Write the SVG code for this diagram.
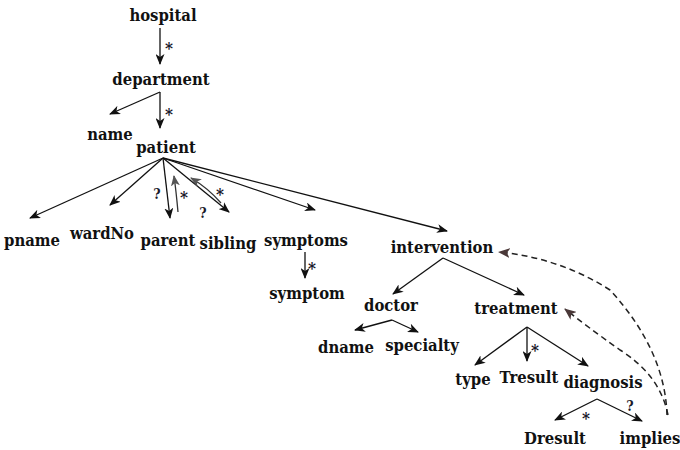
<svg xmlns="http://www.w3.org/2000/svg" width="680" height="450" viewBox="0 0 680 450">
<style>
text{font-family:"DejaVu Serif Condensed","DejaVu Serif","Liberation Serif",serif;font-stretch:condensed;font-weight:bold;font-size:16.5px;fill:#111;text-anchor:middle}
.lbl{font-size:14px;fill:#1a1a2a}
.st{font-size:17px;fill:#1a1a2a}
.e{stroke:#111;stroke-width:1.3;fill:none;marker-end:url(#ah)}
.r{stroke:#333;stroke-width:1.3;fill:none;marker-end:url(#ag)}
.d{stroke:#222;stroke-width:1.5;fill:none;stroke-dasharray:6,4;marker-end:url(#ad)}
</style>
<defs>
<marker id="ah" markerUnits="userSpaceOnUse" markerWidth="11" markerHeight="9" refX="10" refY="4.5" orient="auto"><path d="M0,0 L11,4.5 L0,9 L3,4.5 z" fill="#111"/></marker>
<marker id="ag" markerUnits="userSpaceOnUse" markerWidth="11" markerHeight="9" refX="10" refY="4.5" orient="auto"><path d="M0,0 L11,4.5 L0,9 L3,4.5 z" fill="#555"/></marker>
<marker id="ad" markerUnits="userSpaceOnUse" markerWidth="12" markerHeight="10" refX="11" refY="5" orient="auto"><path d="M0,0 L12,5 L0,10 L3,5 z" fill="#4a3838"/></marker>
</defs>
<g id="connectors">
<line class="e" x1="160" y1="28" x2="160" y2="64"/>
<line class="e" x1="160" y1="92" x2="110" y2="114"/>
<line class="e" x1="160" y1="92" x2="160" y2="128"/>
<line class="e" x1="163" y1="158" x2="30" y2="218"/>
<line class="e" x1="163" y1="158" x2="110" y2="205"/>
<line class="e" x1="163" y1="158" x2="170" y2="218"/>
<path class="r" d="M178,212 Q176,190 174,176"/>
<line class="e" x1="163" y1="158" x2="229" y2="212"/>
<path class="r" d="M221,203 Q208,188 191,178"/>
<line class="e" x1="163" y1="158" x2="315" y2="210"/>
<line class="e" x1="163" y1="158" x2="447" y2="231"/>
<line class="e" x1="305" y1="252" x2="305" y2="278"/>
<line class="e" x1="443" y1="258" x2="393" y2="294"/>
<line class="e" x1="443" y1="258" x2="524" y2="295"/>
<path class="e" d="M392,320 L355,330"/>
<path class="e" d="M392,320 L418,332"/>
<line class="e" x1="527" y1="327" x2="475" y2="365"/>
<line class="e" x1="527" y1="327" x2="527" y2="361"/>
<line class="e" x1="527" y1="327" x2="588" y2="366"/>
<line class="e" x1="597" y1="399" x2="555" y2="420"/>
<line class="e" x1="597" y1="399" x2="642" y2="421"/>
<path class="d" d="M667,415 Q665,350 610,290 Q560,258 499,252"/>
<path class="d" d="M668,415 Q660,375 620,350 Q585,325 565,309"/>
</g>
<g id="edge-labels">
<text class="st" x="169" y="54">*</text>
<text class="st" x="169" y="120">*</text>
<text class="lbl" x="157" y="199">?</text>
<text class="st" x="184" y="203">*</text>
<text class="lbl" x="203" y="218">?</text>
<text class="st" x="220" y="200">*</text>
<text class="st" x="312" y="274">*</text>
<text class="st" x="535" y="356">*</text>
<text class="st" x="586" y="424">*</text>
<text class="lbl" x="630" y="411">?</text>
</g>
<g id="hospital"><text x="163" y="21">hospital</text></g>
<g id="department"><text x="161" y="85">department</text></g>
<g id="name"><text x="110" y="140">name</text></g>
<g id="patient"><text x="166" y="153">patient</text></g>
<g id="pname"><text x="32" y="246">pname</text></g>
<g id="wardNo"><text x="102" y="239">wardNo</text></g>
<g id="parent"><text x="168" y="246">parent</text></g>
<g id="sibling"><text x="228" y="249">sibling</text></g>
<g id="symptoms"><text x="306" y="246">symptoms</text></g>
<g id="symptom"><text x="307" y="299">symptom</text></g>
<g id="intervention"><text x="442" y="253">intervention</text></g>
<g id="doctor"><text x="391" y="311">doctor</text></g>
<g id="treatment"><text x="516" y="314">treatment</text></g>
<g id="dname"><text x="346" y="353">dname</text></g>
<g id="specialty"><text x="422" y="351">specialty</text></g>
<g id="type"><text x="473" y="385">type</text></g>
<g id="Tresult"><text x="529" y="383">Tresult</text></g>
<g id="diagnosis"><text x="603" y="388">diagnosis</text></g>
<g id="Dresult"><text x="555" y="444">Dresult</text></g>
<g id="implies"><text x="650" y="444">implies</text></g>
</svg>
